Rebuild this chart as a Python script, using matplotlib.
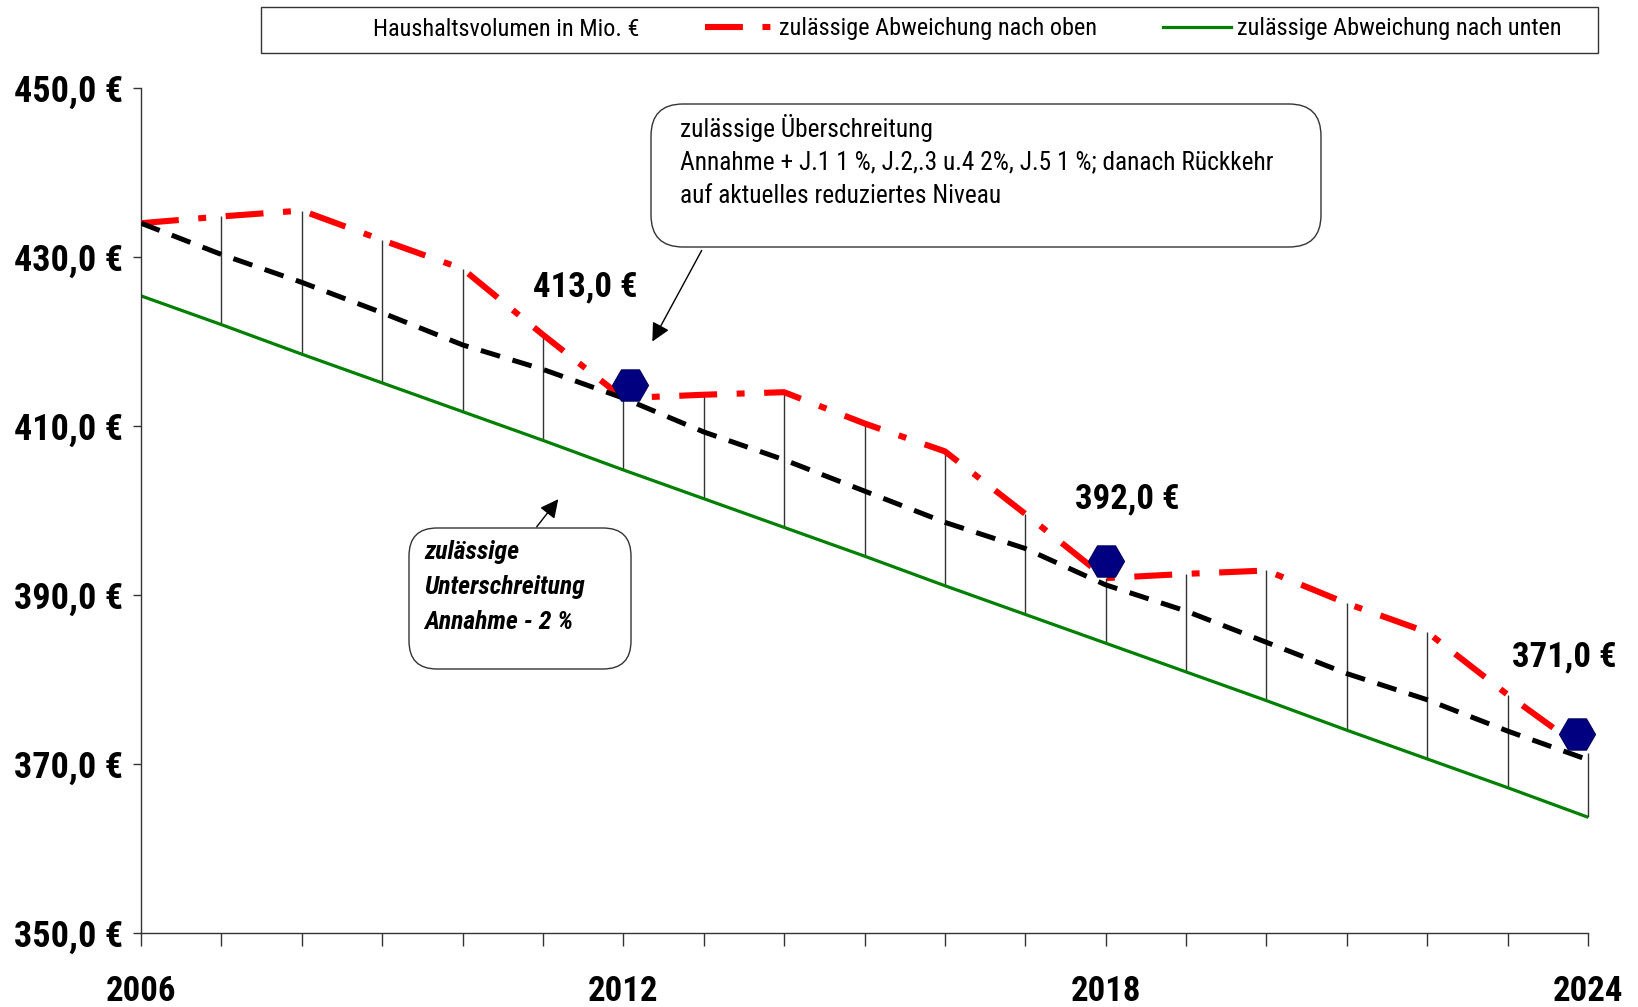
import matplotlib
matplotlib.use('Agg')
import matplotlib.pyplot as plt
from matplotlib.patches import FancyBboxPatch, Rectangle
from matplotlib.lines import Line2D
import numpy as np

plt.rcParams['font.family'] = ['Roboto Condensed', 'Archivo Narrow', 'DejaVu Sans']

# values (Mio. EUR)
years = np.arange(2006, 2025)
volumen = [434.0, 430.3, 427.0, 423.4, 419.6, 416.7, 413.3, 409.3, 406.0, 402.3,
           398.6, 395.5, 391.2, 388.1, 384.4, 380.7, 377.6, 373.9, 370.5]
oben = [434.0, 434.8, 435.5, 432.0, 428.6, 420.8, 413.3, 413.7, 414.0, 410.3,
        407.0, 399.6, 392.0, 392.5, 392.9, 389.0, 385.6, 378.2, 371.3]
unten = [425.4, 422.0, 418.5, 415.1, 411.7, 408.3, 404.8, 401.4, 398.0, 394.6,
         391.1, 387.7, 384.3, 380.9, 377.5, 374.0, 370.6, 367.2, 363.7]
mark_x = [2012.08, 2018.01, 2023.86]
mark_y = [414.9, 394.0, 373.5]
mark_labels = ['413,0 €', '392,0 €', '371,0 €']
ytick_vals = [350, 370, 390, 410, 430, 450]
xtick_labels = {2006: '2006', 2012: '2012', 2018: '2018', 2024: '2024'}

W, H = 1638, 1007
fig = plt.figure(figsize=(W / 100, H / 100), dpi=100)
ax = fig.add_axes([141 / W, 1 - 933 / H, (1588 - 141) / W, (933 - 88) / H])

ax.vlines(years[1:], unten[1:], oben[1:], color='#333333', lw=1.0, zorder=1, clip_on=False)
ax.plot(years, unten, color='#008000', lw=2.3, zorder=2)
ax.plot(years, oben, color='#ff0000', lw=4.4, dashes=(6.2, 3.2, 1.3, 3.2), zorder=3)
ax.plot(years, volumen, color='black', lw=3.6, dashes=(4.0, 2.6), zorder=4)
ax.plot(mark_x, mark_y, ls='none', marker='H', ms=26, color='#000080',
        mec='#000060', mew=0.8, zorder=5, clip_on=False)

offsets = [(-32, 70), (15, 45), (-9, 56)]
for x, y, lab, off in zip(mark_x, mark_y, mark_labels, offsets):
    ax.annotate(lab, (x, y), xytext=off, textcoords='offset points',
                ha='center', va='center', fontsize=25, fontweight='bold')

ax.set_xlim(2006, 2024)
ax.set_ylim(350, 450)
ax.set_xticks(years)
ax.set_xticklabels([xtick_labels.get(y, '') for y in years])
ax.set_yticks(ytick_vals)
ax.set_yticklabels(['%d,0 €' % v for v in ytick_vals])
ax.tick_params(axis='x', length=9, width=1, color='#333333', pad=21, labelsize=25)
ax.tick_params(axis='y', length=6, width=1, color='#333333', pad=7, labelsize=26)
for lab in ax.get_xticklabels() + ax.get_yticklabels():
    lab.set_fontweight('bold')
for s in ['top', 'right']:
    ax.spines[s].set_visible(False)
for s in ['left', 'bottom']:
    ax.spines[s].set_color('#333333')
    ax.spines[s].set_linewidth(1)

# callouts and legend frame in pixel coordinates
ov = fig.add_axes([0, 0, 1, 1], facecolor='none')
ov.set_xlim(0, W)
ov.set_ylim(H, 0)
ov.axis('off')

ov.add_patch(Rectangle((261, 7), 1337, 46, fc='white', ec='#333333', lw=1))
handles = [Line2D([], [], color='none'),
           Line2D([], [], color='#ff0000', lw=4.4, dashes=(6.2, 3.2, 1.3, 3.2)),
           Line2D([], [], color='#008000', lw=2.3)]
names = ['Haushaltsvolumen in Mio. €', 'zulässige Abweichung nach oben',
         'zulässige Abweichung nach unten']
leg = fig.legend(handles, names, ncol=3, loc='center',
                 bbox_to_anchor=(930 / W, 1 - 29 / H),
                 fontsize=17.5, handlelength=2.8, handletextpad=0.25,
                 columnspacing=2.7, frameon=False, borderaxespad=0)
leg.set_zorder(10)

box1 = FancyBboxPatch((651, 104), 670, 143, boxstyle='round,pad=0,rounding_size=32',
                      fc='white', ec='#333333', lw=1)
ov.add_patch(box1)
ov.text(680, 128, 'zulässige Überschreitung', fontsize=18.3, va='center')
ov.text(680, 162, 'Annahme + J.1 1 %, J.2,.3 u.4 2%, J.5 1 %; danach Rückkehr',
        fontsize=18.3, va='center')
ov.text(680, 196, 'auf aktuelles reduziertes Niveau', fontsize=18.3, va='center')
ov.annotate('', xy=(651, 344), xytext=(703, 248),
            arrowprops=dict(arrowstyle='-|>', color='black', lw=1, mutation_scale=28))

box2 = FancyBboxPatch((409, 528), 222, 141, boxstyle='round,pad=0,rounding_size=28',
                      fc='white', ec='#333333', lw=1)
ov.add_patch(box2)
for yy, t in zip([552, 587, 622], ['zulässige', 'Unterschreitung', 'Annahme - 2 %']):
    ov.text(424, yy, t, fontsize=18.5, fontweight='bold', fontstyle='italic', va='center')
ov.annotate('', xy=(560, 497), xytext=(535, 529),
            arrowprops=dict(arrowstyle='-|>', color='black', lw=1, mutation_scale=28))

fig.savefig('out.png', dpi=100)
